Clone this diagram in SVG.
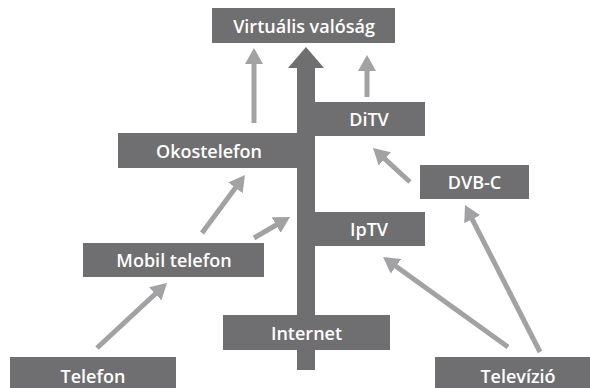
<svg xmlns="http://www.w3.org/2000/svg" width="590" height="388" viewBox="0 0 590 388">
<style>
.box{fill:#6f6f71}
.t{fill:#ffffff;font-family:"Open Sans","Liberation Sans",sans-serif;font-weight:600;font-size:18px;text-anchor:middle;dominant-baseline:central}
.c{stroke:#a2a2a4;stroke-width:5;fill:none;marker-end:url(#ah)}
</style>
<defs>
<marker id="ah" markerUnits="userSpaceOnUse" markerWidth="16" markerHeight="18" refX="10" refY="9" orient="auto">
<path d="M0,0 L16,9 L0,18 Z" fill="#a2a2a4"/>
</marker>
</defs>
<rect width="590" height="388" fill="#ffffff"/>
<g id="connectors">
<polygon id="main-arrow" class="box" points="297,370 297,68 288,68 306,47 324,68 315,68 315,370"/>
<line class="c" x1="254" y1="123" x2="254" y2="54"/>
<line class="c" x1="367" y1="97" x2="367" y2="61"/>
<line class="c" x1="410" y1="182" x2="377.4" y2="152.1"/>
<line class="c" x1="540" y1="352" x2="467.7" y2="210.3"/>
<line class="c" x1="508" y1="347" x2="387.9" y2="260.5"/>
<line class="c" x1="202" y1="233" x2="241.4" y2="179.8"/>
<line class="c" x1="254" y1="238" x2="284.8" y2="220"/>
<line class="c" x1="97" y1="348" x2="162.6" y2="287.1"/>
</g>
<g id="virtualis"><rect class="box" x="212" y="8" width="183" height="35"/><text class="t" x="304" y="26">Virtuális valóság</text></g>
<g id="ditv"><rect class="box" x="314" y="102" width="111" height="34"/><text class="t" x="369" y="119">DiTV</text></g>
<g id="okostelefon"><rect class="box" x="118" y="133" width="180" height="35"/><text class="t" x="209" y="151">Okostelefon</text></g>
<g id="dvbc"><rect class="box" x="420" y="165" width="109" height="34"/><text class="t" x="474.5" y="182">DVB-C</text></g>
<g id="iptv"><rect class="box" x="314" y="212" width="111" height="34"/><text class="t" x="369" y="229">IpTV</text></g>
<g id="mobil"><rect class="box" x="83" y="243" width="181" height="34"/><text class="t" x="174" y="260">Mobil telefon</text></g>
<g id="internet"><rect class="box" x="223" y="315" width="167" height="35"/><text class="t" x="306.5" y="333">Internet</text></g>
<g id="telefon"><rect class="box" x="10" y="357" width="166" height="31"/><text class="t" x="93" y="376">Telefon</text></g>
<g id="televizio"><rect class="box" x="435" y="357" width="155" height="31"/><text class="t" x="518" y="376">Televízió</text></g>
</svg>
